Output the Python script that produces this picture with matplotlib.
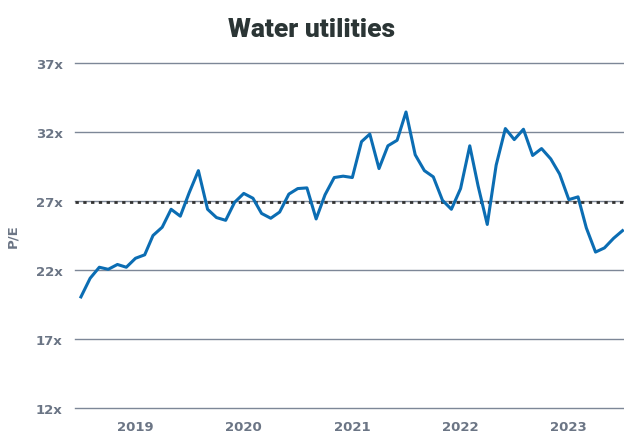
import matplotlib
matplotlib.use("Agg")
import matplotlib.pyplot as plt
import pandas as pd

start_month = "2018-07-01"
pe_values = [
    20.05, 21.4, 22.2, 22.05, 22.4, 22.2,
    22.85, 23.1, 24.5, 25.1, 26.4, 25.9, 27.6, 29.2, 26.4, 25.8, 25.6, 26.9,
    27.55, 27.2, 26.1, 25.75, 26.2, 27.5, 27.9, 27.95, 25.7, 27.45, 28.7, 28.8,
    28.7, 31.3, 31.85, 29.35, 31.0, 31.4, 33.45, 30.35, 29.2, 28.75, 27.05, 26.4,
    27.9, 31.0, 28.1, 25.3, 29.6, 32.25, 31.45, 32.2, 30.3, 30.8, 30.05, 28.95,
    27.1, 27.3, 25.05, 23.3, 23.6, 24.3, 24.85,
]
average_pe = 26.95
y_ticks = [12, 17, 22, 27, 32, 37]
y_tick_labels = ["12x", "17x", "22x", "27x", "32x", "37x"]
year_ticks = ["2019", "2020", "2021", "2022", "2023"]

dates = pd.date_range(start_month, periods=len(pe_values), freq="MS")

fig = plt.figure(figsize=(6.24, 4.35), dpi=100)
ax = fig.add_axes([75 / 624, 1 - 409 / 435, 549 / 624, 345 / 435])

tick_color = "#6b7585"
grid_color = "#7d8797"

for yv in y_ticks:
    ax.axhline(yv, color=grid_color, lw=1.0, zorder=1, clip_on=False)

ax.plot(dates, pe_values, color="#0b6db3", lw=2.2, zorder=3)
ax.axhline(average_pe, color="#333333", lw=2.0, ls=(0, (1.2, 1.6)), zorder=2)

ax.set_ylim(12, 37)
ax.set_xlim(dates[0] - pd.Timedelta(days=20), dates[-1] + pd.Timedelta(days=5))
ax.set_yticks(y_ticks)
ax.set_yticklabels(y_tick_labels, fontfamily="DejaVu Sans", fontweight="bold", fontsize=9.5)
ax.set_xticks([pd.Timestamp(f"{y}-01-01") for y in year_ticks])
ax.set_xticklabels(year_ticks, fontfamily="DejaVu Sans", fontweight="bold", fontsize=9.5)

for s in ax.spines.values():
    s.set_visible(False)
ax.tick_params(axis="both", length=0, colors=tick_color)
ax.tick_params(axis="y", pad=9)
ax.tick_params(axis="x", pad=9)

ax.set_ylabel("P/E", color=tick_color, fontsize=9.5, fontweight="bold", fontfamily="DejaVu Sans", labelpad=12)

fig.text(0.5, 1 - 30 / 435, "Water utilities", ha="center", va="center",
         fontsize=19, fontweight="black", fontfamily="Roboto", color="#2b3535")

fig.savefig("out.png", dpi=100)
